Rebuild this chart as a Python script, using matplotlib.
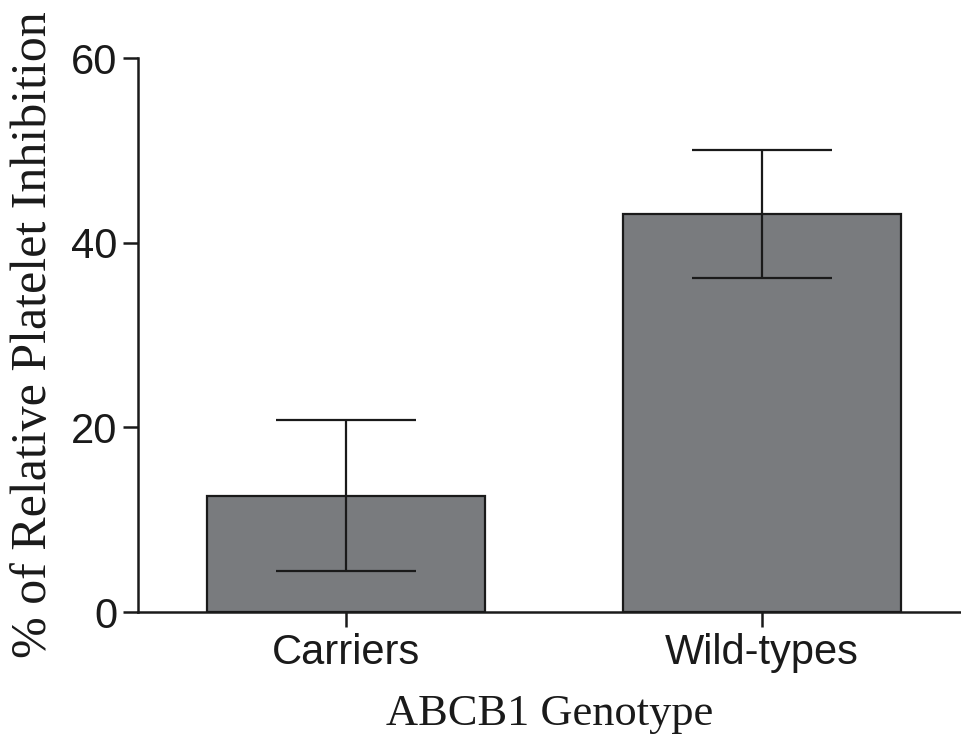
import matplotlib
matplotlib.use("Agg")
import matplotlib.pyplot as plt

categories = ["Carriers", "Wild-types"]
means = [12.6, 43.1]
errors = [8.2, 6.9]
yticks = [0, 20, 40, 60]

W, H = 962, 742
fig = plt.figure(figsize=(W/100, H/100), dpi=100)
ax = fig.add_axes([138/W, (H-612)/H, (W-138)/W, (612-58)/H])

x = list(range(len(categories)))
ax.bar(x, means, width=0.668, color="#797b7e", edgecolor="#1a1a1a", linewidth=1.6, zorder=2)
ax.errorbar(x, means, yerr=errors, fmt="none", ecolor="#1a1a1a", elinewidth=1.6,
            capsize=50.4, capthick=1.6, zorder=3)

ax.set_xlim(-0.5, 1.481)
ax.set_ylim(0, 60)
ax.set_yticks(yticks)
ax.set_xticks(x)
ax.set_xticklabels(categories)
for s in ["top", "right"]:
    ax.spines[s].set_visible(False)
for s in ["left", "bottom"]:
    ax.spines[s].set_linewidth(1.8)
    ax.spines[s].set_color("#1a1a1a")
ax.tick_params(axis="both", direction="out", length=11, width=1.8, color="#1a1a1a",
               labelsize=30, pad=4)
for lab in ax.get_xticklabels() + ax.get_yticklabels():
    lab.set_fontfamily("Liberation Sans")
    lab.set_color("#1a1a1a")

ax.set_ylabel("% of Relative Platelet Inhibition", fontfamily="Liberation Serif",
              fontsize=36, color="#1a1a1a")
ax.set_xlabel("ABCB1 Genotype", fontfamily="Liberation Serif", fontsize=32,
              color="#1a1a1a")
ax.yaxis.set_label_coords(-0.098, 0.5)
ax.xaxis.set_label_coords(0.5, -0.148)

fig.savefig("out.png", dpi=100)
